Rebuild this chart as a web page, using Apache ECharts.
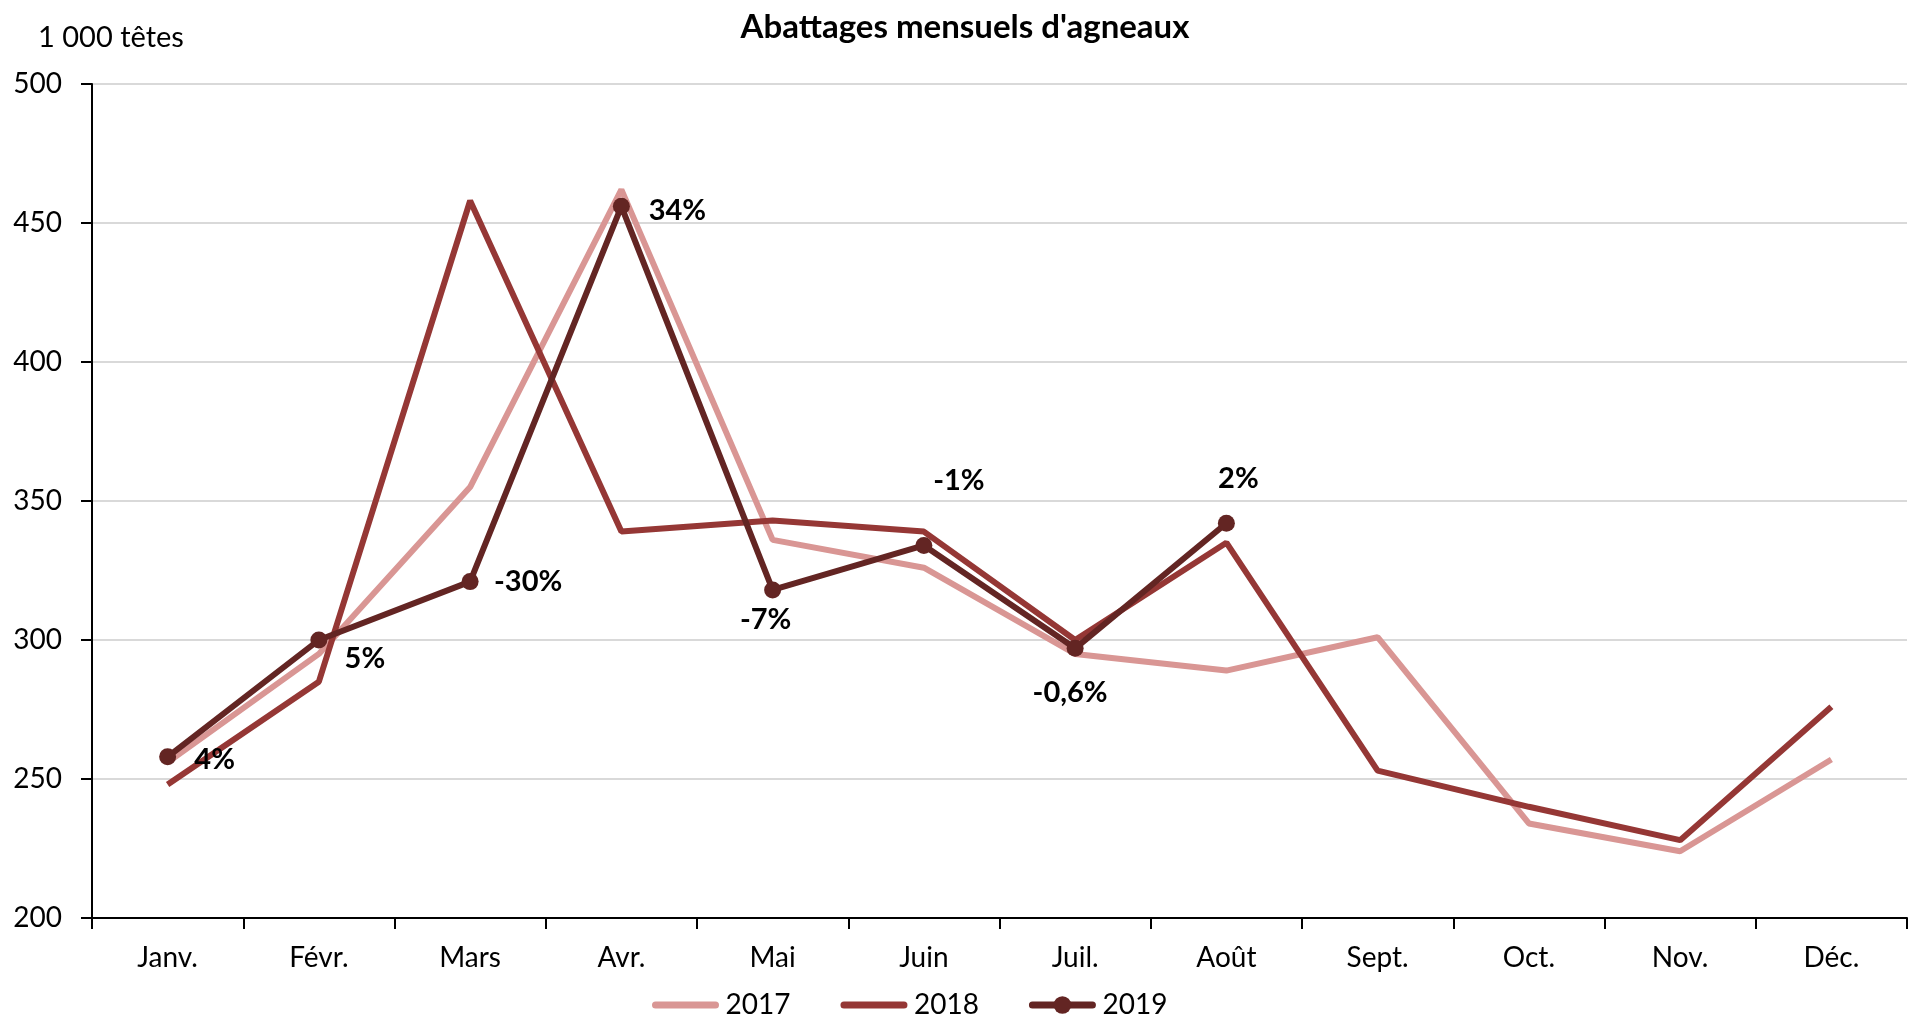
<!DOCTYPE html>
<html>
<head>
<meta charset="utf-8">
<script src="https://cdn.jsdelivr.net/npm/echarts@6/dist/echarts.min.js"></script>
<style>
  html, body { margin: 0; padding: 0; background: #fff; }
  #main { width: 1914px; height: 1017px; }
</style>
</head>
<body>
<div id="main"></div>
<script>
// mois
var months = ['Janv.', 'Févr.', 'Mars', 'Avr.', 'Mai', 'Juin', 'Juil.', 'Août', 'Sept.', 'Oct.', 'Nov.', 'Déc.'];
// abattages, 1 000 têtes
var data2017 = [256, 295, 355, 462, 336, 326, 295, 289, 301, 234, 224, 257];
var data2018 = [248, 285, 458, 339, 343, 339, 300, 335, 253, 240, 228, 276];
var data2019 = [258, 300, 321, 456, 318, 334, 297, 342];
// évolution 2019/2018
var evol2019 = ['4%', '5%', '-30%', '34%', '-7%', '-1%', '-0,6%', '2%'];
var yTicks = [200, 250, 300, 350, 400, 450, 500];

(function () {
    var myChart = echarts.init(document.getElementById('main'));
    var font = 'Lato, "Open Sans", sans-serif';

    // décalage des étiquettes par rapport au point (centre)
    var labelShift = [[47, 3], [46, 19], [58, 0], [56, 4], [-7, 30], [35, -65], [-5, 44], [12, -45]];
    var symSize = 17;

    var points2019 = data2019.map(function (v, i) {
        return {
            value: v,
            label: {
                show: true,
                formatter: evol2019[i],
                position: [labelShift[i][0] + symSize / 2, labelShift[i][1] + symSize / 2],
                align: 'center',
                verticalAlign: 'middle'
            }
        };
    });

    // pas de rond dans la légende pour 2017 et 2018
    var noDot = { color: 'rgba(0,0,0,0)', borderWidth: 0 };

    var option = {
        backgroundColor: '#fff',
        animation: false,
        textStyle: { fontFamily: font },
        title: [{
            text: "Abattages mensuels d'agneaux",
            left: 960,
            top: 6,
            textAlign: 'center',
            textStyle: { fontSize: 33, fontWeight: 'bold', color: '#000', fontFamily: font }
        }, {
            text: '1 000 têtes',
            left: 33,
            top: 18,
            textStyle: { fontSize: 29, fontWeight: 'normal', color: '#000', fontFamily: font }
        }],
        legend: {
            left: 647,
            top: 986,
            itemWidth: 60,
            itemHeight: 22,
            itemGap: 50,
            textStyle: { fontSize: 28, color: '#000', fontFamily: font, padding: [0, 0, 0, 5] },
            data: [
                { name: '2017', itemStyle: noDot, lineStyle: { width: 7, cap: 'round' } },
                { name: '2018', itemStyle: noDot, lineStyle: { width: 7, cap: 'round' } },
                { name: '2019', lineStyle: { width: 7, cap: 'round' } }
            ]
        },
        grid: { left: 92, right: 7, top: 84, bottom: 99, containLabel: false },
        xAxis: {
            type: 'category',
            data: months,
            boundaryGap: true,
            axisLine: { lineStyle: { color: '#000', width: 2 } },
            axisTick: { show: true, length: 11, lineStyle: { color: '#000', width: 2 } },
            axisLabel: { fontSize: 28, color: '#000', margin: 26, fontFamily: font },
            splitLine: { show: false }
        },
        yAxis: {
            type: 'value',
            min: yTicks[0],
            max: yTicks[yTicks.length - 1],
            interval: 50,
            axisLine: { show: true, lineStyle: { color: '#000', width: 2 } },
            axisTick: { show: true, length: 11, lineStyle: { color: '#000', width: 2 } },
            axisLabel: { fontSize: 28, color: '#000', margin: 30, fontFamily: font },
            splitLine: { lineStyle: { color: '#d9d9d9', width: 2 } }
        },
        series: [{
            name: '2017',
            type: 'line',
            data: data2017,
            symbol: 'none',
            lineStyle: { color: '#d99694', width: 6 },
            itemStyle: { color: '#d99694' },
            z: 2
        }, {
            name: '2018',
            type: 'line',
            data: data2018,
            symbol: 'none',
            lineStyle: { color: '#953735', width: 6 },
            itemStyle: { color: '#953735' },
            z: 3
        }, {
            name: '2019',
            type: 'line',
            data: points2019,
            symbol: 'circle',
            symbolSize: symSize,
            lineStyle: { color: '#632523', width: 6 },
            itemStyle: { color: '#632523' },
            label: {
                fontSize: 29,
                fontWeight: 'bold',
                color: '#000',
                fontFamily: font
            },
            z: 4
        }]
    };

    myChart.setOption(option);
})();
</script>
</body>
</html>
